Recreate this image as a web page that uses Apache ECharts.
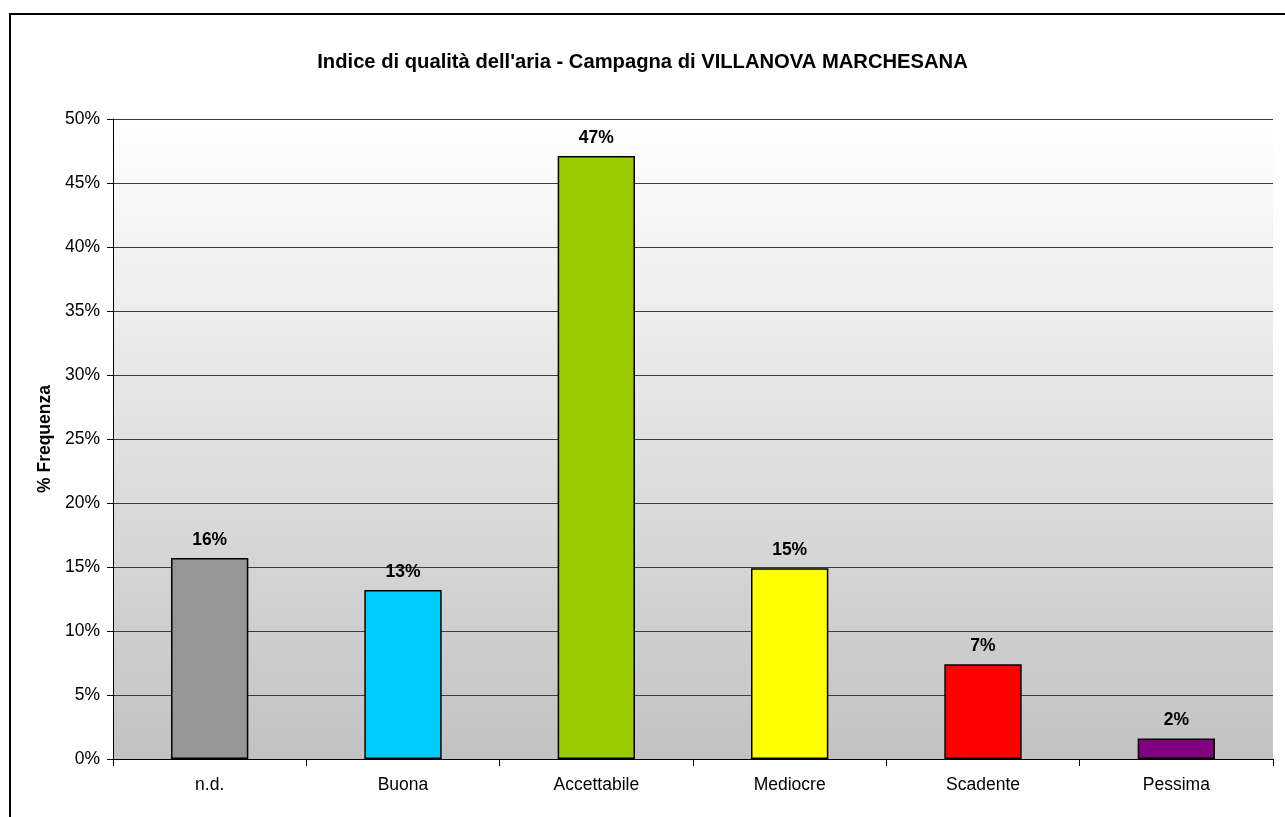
<!DOCTYPE html>
<html><head><meta charset="utf-8">
<script src="https://cdn.jsdelivr.net/npm/echarts@6/dist/echarts.min.js"></script>
<style>html,body{margin:0;padding:0;background:#fff;}#c{width:1285px;height:817px;}</style>
</head><body><div id="c"></div>
<script>
const categories = ['n.d.', 'Buona', 'Accettabile', 'Mediocre', 'Scadente', 'Pessima'];
const values = [15.7, 13.2, 47.1, 14.9, 7.4, 1.6];
const barColors = ['#969696', '#00ccff', '#99cc00', '#ffff00', '#ff0000', '#800080'];
const titleText = "Indice di qualità dell'aria - Campagna di VILLANOVA MARCHESANA";
const yAxisName = '% Frequenza';

const chart = echarts.init(document.getElementById('c'), null, {renderer: 'canvas'});
const font = 'Liberation Sans, Arial, sans-serif';
chart.setOption({
  animation: false,
  textStyle: {fontFamily: font},
  graphic: [{
    type: 'rect', shape: {x: 10, y: 14, width: 1290, height: 820},
    style: {fill: 'none', stroke: '#000', lineWidth: 2}, silent: true, z: 100
  }],
  title: {
    text: titleText, left: 'center', top: 47,
    textStyle: {fontSize: 20.2, fontWeight: 'bold', color: '#000', fontFamily: font}
  },
  grid: {
    left: 113, right: 12, top: 119, bottom: 58,
    show: true, borderWidth: 0,
    backgroundColor: new echarts.graphic.LinearGradient(0, 0, 0, 1, [
      {offset: 0, color: '#ffffff'}, {offset: 1, color: '#c2c2c2'}
    ])
  },
  xAxis: {
    type: 'category', data: categories,
    axisLine: {lineStyle: {color: '#000', width: 1}},
    axisTick: {show: true, length: 7, lineStyle: {color: '#000'}},
    axisLabel: {fontSize: 17.5, color: '#000', margin: 17, fontFamily: font}
  },
  yAxis: {
    type: 'value', min: 0, max: 50, interval: 5,
    name: yAxisName, nameLocation: 'middle', nameGap: 58, nameRotate: 90,
    nameTextStyle: {fontSize: 17.5, fontWeight: 'bold', color: '#000', fontFamily: font},
    axisLine: {show: true, lineStyle: {color: '#000', width: 1}},
    axisTick: {show: true, length: 6, lineStyle: {color: '#000'}},
    axisLabel: {fontSize: 17.5, color: '#000', margin: 13, formatter: '{value}%', fontFamily: font},
    splitLine: {show: true, lineStyle: {color: '#3c3c3c', width: 1}}
  },
  series: [{
    type: 'bar', barWidth: '40%',
    data: values.map((v, i) => ({value: v, itemStyle: {color: barColors[i]}})),
    itemStyle: {borderColor: '#000', borderWidth: 1.5},
    label: {
      show: true, position: 'top', distance: 9,
      formatter: p => Math.round(p.value) + '%',
      fontSize: 17.5, fontWeight: 'bold', color: '#000', fontFamily: font
    }
  }]
});
</script></body></html>
